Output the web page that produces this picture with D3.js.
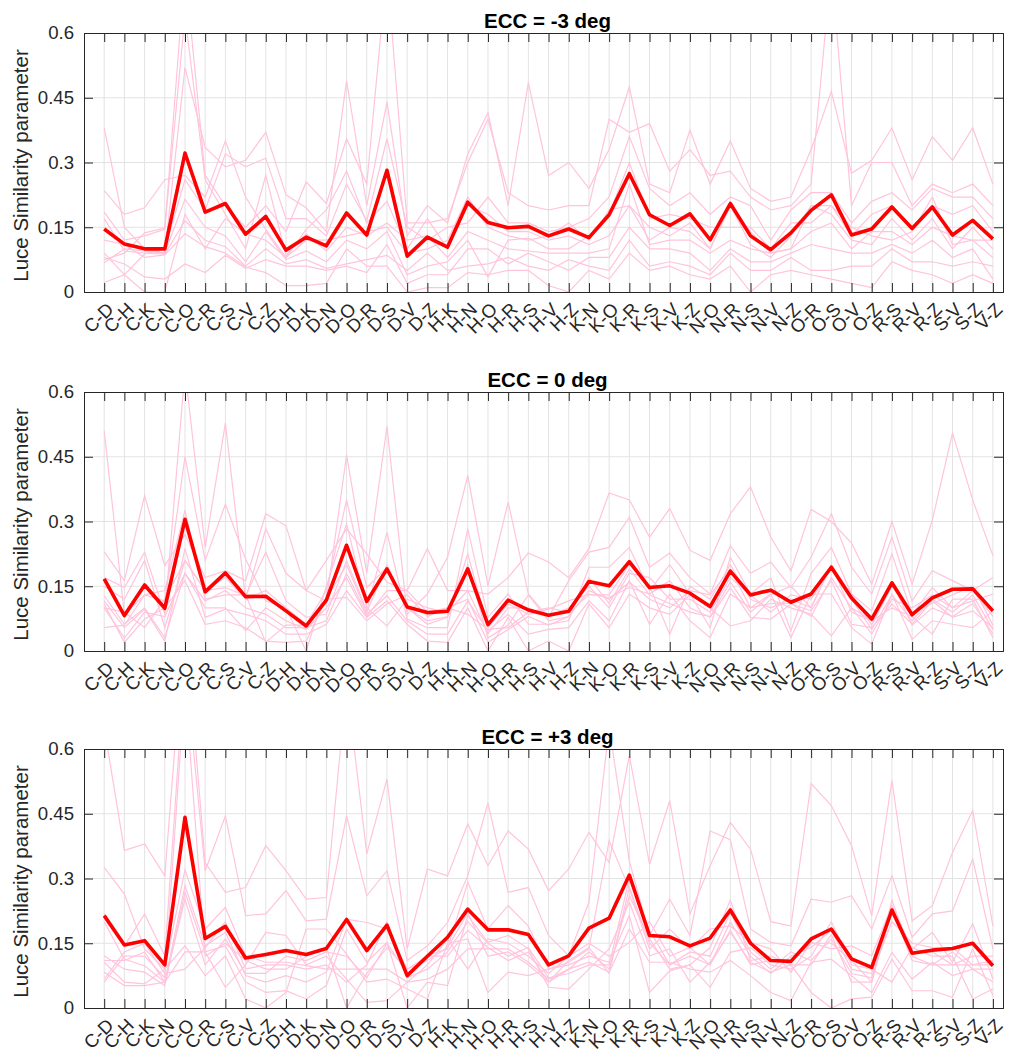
<!DOCTYPE html>
<html>
<head>
<meta charset="utf-8">
<script src="https://cdn.jsdelivr.net/npm/d3@7"></script>
<style>
  body { margin: 0; background: #fff; }
  svg text { font-family: "Liberation Sans", Arial, Helvetica, sans-serif; fill: #262626; }
</style>
</head>
<body>
<div id="chart"></div>
<script>
// letter pairs on the x axis
var pairs = ["C-D","C-H","C-K","C-N","C-O","C-R","C-S","C-V","C-Z","D-H","D-K","D-N","D-O","D-R","D-S","D-V","D-Z",
             "H-K","H-N","H-O","H-R","H-S","H-V","H-Z","K-N","K-O","K-R","K-S","K-V","K-Z","N-O","N-R","N-S","N-V","N-Z",
             "O-R","O-S","O-V","O-Z","R-S","R-V","R-Z","S-V","S-Z","V-Z"];
var yTicks = [0, 0.15, 0.3, 0.45, 0.6];
var titles = ["ECC = -3 deg", "ECC = 0 deg", "ECC = +3 deg"];

// group mean (red line)
var meanM3 = [0.146,0.111,0.100,0.100,0.322,0.185,0.205,0.134,0.175,0.097,0.127,0.107,0.183,0.132,0.282,0.083,0.127,
              0.104,0.208,0.161,0.149,0.152,0.130,0.146,0.126,0.179,0.274,0.179,0.154,0.181,0.121,0.205,0.130,0.098,0.137,
              0.189,0.225,0.132,0.146,0.197,0.147,0.197,0.132,0.166,0.123];
var meanZ0 = [0.167,0.082,0.153,0.099,0.305,0.137,0.181,0.126,0.127,0.093,0.058,0.118,0.245,0.115,0.190,0.102,0.089,
              0.092,0.190,0.061,0.118,0.095,0.083,0.092,0.161,0.151,0.207,0.147,0.151,0.134,0.103,0.185,0.130,0.141,0.113,
              0.132,0.194,0.123,0.074,0.158,0.084,0.123,0.143,0.144,0.093];
var meanP3 = [0.214,0.146,0.156,0.100,0.442,0.161,0.189,0.116,0.124,0.133,0.124,0.138,0.205,0.133,0.192,0.075,0.120,
              0.164,0.229,0.181,0.181,0.170,0.100,0.121,0.185,0.208,0.308,0.168,0.165,0.144,0.162,0.227,0.150,0.110,0.108,
              0.160,0.183,0.114,0.094,0.227,0.127,0.134,0.138,0.150,0.098];

// individual observers (pink lines): one row per pair, one value per observer
var subjM3 = [
  [.38,.235,.185,.17,.12,.09,.08,.075,.068,.022],
  [.15,.18,.12,.095,.11,.04,.065,.09,.1,.04],
  [.10,.195,.13,.09,.08,.088,.035,.137,.095,.0],
  [.09,.26,.145,.088,.086,.1,.03,.148,.09,.0],
  [.52,.27,.75,.165,.135,.26,.065,.64,.215,.18],
  [.335,.22,.27,.12,.105,.19,.045,.26,.15,.10],
  [.29,.35,.2,.105,.09,.32,.085,.18,.13,.17],
  [.305,.22,.15,.06,.058,.29,.055,.1,.07,.135],
  [.37,.145,.2,.1,.045,.31,.075,.27,.14,.12],
  [.225,.08,.14,.065,.015,.17,.06,.085,.075,.08],
  [.195,.145,.255,.075,.015,.17,.06,.135,.095,.12],
  [.14,.19,.205,.055,.02,.13,.05,.095,.07,.12],
  [.49,.28,.355,.065,.1,.25,.06,.15,.12,.13],
  [.2,.16,.25,.075,.06,.165,.045,.13,.1,.14],
  [.44,.21,.75,.085,.06,.355,.11,.16,.14,.15],
  [.13,.1,.16,.05,.0,.15,.02,.12,.04,.09],
  [.2,.17,.16,.09,.01,.12,.04,.13,.06,.1],
  [.16,.1,.17,.05,.01,.15,.04,.08,.07,.12],
  [.32,.2,.3,.06,.045,.16,.1,.14,.12,.22],
  [.415,.18,.4,.065,.04,.22,.1,.12,.035,.15],
  [.2,.14,.23,.08,.05,.16,.065,.1,.12,.13],
  [.485,.14,.2,.06,.05,.16,.09,.095,.125,.12],
  [.27,.12,.19,.05,.015,.14,.07,.09,.1,.13],
  [.3,.13,.2,.075,.0,.15,.05,.09,.1,.16],
  [.24,.11,.2,.06,.05,.17,.08,.09,.13,.12],
  [.33,.13,.4,.05,.03,.22,.08,.1,.18,.19],
  [.475,.2,.37,.12,.09,.36,.15,.25,.3,.2],
  [.25,.12,.39,.06,.05,.24,.1,.11,.17,.15],
  [.23,.15,.28,.07,.06,.2,.1,.12,.18,.13],
  [.375,.14,.33,.06,.04,.23,.09,.12,.17,.16],
  [.25,.1,.27,.04,.03,.18,.05,.09,.15,.1],
  [.35,.2,.28,.09,.06,.22,.1,.12,.15,.2],
  [.24,.11,.22,.05,.0,.2,.07,.1,.15,.14],
  [.21,.08,.19,.05,.04,.12,.07,.09,.1,.09],
  [.22,.13,.2,.08,.05,.19,.09,.1,.16,.1],
  [.33,.2,.25,.05,.04,.23,.11,.14,.16,.2],
  [.465,.18,.75,.05,.03,.23,.1,.16,.2,.2],
  [.275,.12,.2,.06,.02,.16,.09,.1,.13,.15],
  [.305,.11,.3,.06,.01,.21,.09,.14,.18,.13],
  [.38,.17,.3,.1,.07,.23,.11,.14,.2,.12],
  [.26,.12,.2,.07,.05,.19,.09,.11,.15,.14],
  [.36,.17,.25,.07,.04,.24,.12,.15,.2,.22],
  [.305,.1,.23,.06,.02,.22,.08,.13,.18,.11],
  [.38,.15,.25,.07,.04,.22,.1,.12,.2,.12],
  [.25,.1,.2,.06,.02,.17,.03,.08,.14,.12]
];
var subjZ0 = [
  [.51,.23,.17,.15,.128,.116,.109,.1,.054,.1],
  [.085,.163,.147,.12,.062,.054,.02,.09,.06,.03],
  [.13,.36,.229,.21,.1,.097,.074,.054,.13,.09],
  [.116,.198,.085,.054,.031,.023,.1,.12,.14,.08],
  [.45,.27,.65,.21,.18,.237,.163,.21,.326,.18],
  [.21,.17,.24,.14,.116,.078,.062,.14,.12,.1],
  [.34,.186,.528,.147,.14,.097,.07,.17,.13,.1],
  [.213,.163,.12,.128,.1,.085,.054,.12,.13,.047],
  [.116,.318,.283,.229,.085,.07,.023,.14,.02,.1],
  [.1,.29,.18,.116,.054,.039,.02,.1,.06,.07],
  [.062,.14,.14,.078,.054,.039,.023,.0,.06,.05],
  [.14,.21,.116,.085,.07,.062,.12,.15,.12,.1],
  [.35,.283,.454,.21,.18,.14,.124,.295,.2,.17],
  [.147,.225,.18,.093,.085,.078,.07,.1,.09,.08],
  [.194,.159,.52,.275,.128,.116,.109,.058,.2,.14],
  [.1,.14,.085,.074,.07,.062,.13,.12,.1,.14],
  [.062,.237,.132,.054,.039,.023,.08,.1,.07,.09],
  [.078,.14,.217,.054,.039,.02,.1,.09,.08,.1],
  [.225,.14,.407,.283,.116,.1,.085,.14,.2,.12],
  [.054,.132,.151,.078,.047,.0,.05,.04,.03,.02],
  [.109,.17,.345,.132,.085,.078,.054,.1,.06,.05],
  [.085,.227,.132,.062,.039,.0,.09,.1,.13,.08],
  [.097,.206,.078,.062,.05,.023,.1,.08,.07,.06],
  [.116,.17,.163,.07,.054,.0,.09,.1,.08,.08],
  [.132,.237,.229,.194,.116,.109,.13,.15,.14,.17],
  [.124,.366,.24,.194,.07,.054,.13,.1,.12,.11],
  [.147,.35,.31,.24,.163,.132,.2,.18,.16,.19],
  [.132,.264,.194,.14,.062,.1,.15,.17,.12,.13],
  [.163,.33,.227,.2,.132,.085,.039,.12,.1,.11],
  [.1,.233,.17,.132,.07,.13,.15,.12,.14,.09],
  [.078,.21,.132,.054,.031,.1,.12,.09,.13,.08],
  [.147,.318,.244,.217,.132,.058,.2,.17,.19,.16],
  [.078,.38,.18,.132,.1,.07,.12,.13,.1,.09],
  [.074,.264,.206,.17,.132,.12,.1,.09,.11,.13],
  [.109,.186,.147,.047,.031,.1,.12,.13,.11,.15],
  [.093,.328,.217,.18,.132,.085,.1,.12,.08,.1],
  [.163,.3,.318,.24,.132,.035,.2,.19,.17,.2],
  [.062,.25,.194,.132,.054,.1,.13,.12,.1,.09],
  [.054,.155,.132,.093,.016,.07,.06,.05,.04,.07],
  [.109,.3,.264,.225,.132,.1,.15,.13,.12,.16],
  [.062,.155,.116,.085,.027,.08,.09,.07,.1,.06],
  [.116,.303,.186,.147,.07,.039,.11,.12,.13,.1],
  [.078,.505,.163,.1,.062,.12,.13,.09,.1,.08],
  [.093,.35,.14,.116,.054,.12,.15,.13,.14,.11],
  [.054,.221,.17,.132,.093,.031,.06,.05,.08,.04]
];
var subjP3 = [
  [.65,.326,.218,.2,.121,.106,.083,.067,.06,.11],
  [.365,.264,.144,.113,.09,.06,.052,.13,.12,.11],
  [.38,.137,.218,.098,.083,.056,.052,.15,.12,.13],
  [.306,.09,.121,.06,.052,.09,.06,.08,.07,.06],
  [.9,.32,.8,.283,.268,.144,.13,.09,.75,.252],
  [.337,.183,.318,.144,.13,.075,.13,.14,.12,.1],
  [.268,.233,.445,.175,.144,.121,.048,.2,.15,.16],
  [.279,.121,.214,.075,.06,.021,.1,.09,.11,.08],
  [.376,.106,.218,.06,.036,.0,.175,.1,.09,.08],
  [.318,.106,.272,.075,.04,.036,.168,.1,.09,.12],
  [.252,.098,.202,.06,.021,.183,.1,.09,.12,.11],
  [.256,.09,.206,.083,.052,.183,.12,.1,.14,.13],
  [.75,.09,.445,.206,.183,.125,.067,.06,.0,.12],
  [.357,.09,.26,.198,.106,.06,.013,.1,.08,.07],
  [.53,.09,.318,.183,.152,.067,.017,.2,.14,.15],
  [.137,.06,.11,.09,.0,.044,.06,.07,.09,.08],
  [.322,.067,.144,.121,.06,.021,.1,.09,.11,.12],
  [.306,.09,.198,.137,.052,.15,.16,.13,.14,.12],
  [.426,.137,.306,.291,.214,.16,.09,.2,.22,.18],
  [.33,.137,.475,.183,.152,.036,.16,.15,.12,.14],
  [.41,.137,.268,.237,.168,.083,.15,.12,.13,.11],
  [.368,.106,.279,.19,.137,.075,.12,.14,.1,.13],
  [.272,.067,.168,.09,.048,.09,.08,.07,.06,.06],
  [.322,.09,.121,.106,.044,.1,.12,.08,.11,.09],
  [.407,.106,.245,.137,.09,.12,.15,.1,.14,.13],
  [.337,.083,.65,.388,.137,.106,.12,.1,.08,.09],
  [.585,.183,.341,.276,.245,.214,.152,.3,.28,.26],
  [.333,.106,.168,.137,.121,.036,.2,.18,.15,.16],
  [.48,.106,.252,.183,.137,.086,.12,.1,.1,.09],
  [.218,.09,.168,.137,.06,.1,.14,.13,.12,.1],
  [.33,.083,.41,.183,.106,.048,.1,.12,.1,.14],
  [.43,.11,.39,.19,.175,.129,.2,.22,.18,.25],
  [.368,.075,.183,.152,.106,.14,.12,.13,.1,.11],
  [.2,.036,.152,.137,.083,.1,.08,.09,.11,.12],
  [.19,.017,.144,.083,.1,.09,.12,.13,.11,.1],
  [.52,.106,.252,.152,.036,.12,.14,.11,.15,.1],
  [.469,.113,.245,.137,.0,.2,.18,.16,.15,.17],
  [.376,.075,.26,.144,.021,.1,.09,.08,.11,.06],
  [.214,.036,.183,.121,.025,.09,.08,.07,.06,.06],
  [.527,.129,.306,.237,.113,.06,.2,.22,.25,.23],
  [.202,.067,.164,.137,.04,.14,.15,.13,.12,.11],
  [.237,.106,.218,.175,.04,.12,.14,.13,.1,.1],
  [.36,.075,.225,.106,.025,.12,.14,.1,.13,.1],
  [.457,.09,.345,.195,.137,.021,.1,.12,.09,.1],
  [.19,.06,.137,.067,.029,.044,.1,.12,.09,.11]
];

var panels = [
  {title: titles[0], mean: meanM3, subj: subjM3, top: 33},
  {title: titles[1], mean: meanZ0, subj: subjZ0, top: 392},
  {title: titles[2], mean: meanP3, subj: subjP3, top: 749}
];

var width = 1012, height = 1056,
    left = 84, right = 1003, plotH = 259;

var svg = d3.select("#chart").append("svg")
  .attr("width", width).attr("height", height);

var x = d3.scaleLinear().domain([0, 45.5]).range([left, right]);

panels.forEach(function(p, k) {
  var y = d3.scaleLinear().domain([0, 0.6]).range([p.top + plotH, p.top]);
  var g = svg.append("g");

  // grid
  g.append("g").selectAll("line").data(pairs).enter().append("line")
    .attr("x1", function(d, i) { return x(i + 1); }).attr("x2", function(d, i) { return x(i + 1); })
    .attr("y1", p.top).attr("y2", p.top + plotH)
    .attr("stroke", "#e3e3e3").attr("stroke-width", 1);
  g.append("g").selectAll("line").data(yTicks.slice(1, 4)).enter().append("line")
    .attr("x1", left).attr("x2", right)
    .attr("y1", function(d) { return y(d); }).attr("y2", function(d) { return y(d); })
    .attr("stroke", "#e3e3e3").attr("stroke-width", 1);

  // clip for values above 0.6
  var clipId = "clip" + k;
  svg.append("clipPath").attr("id", clipId).append("rect")
    .attr("x", left).attr("y", p.top).attr("width", right - left).attr("height", plotH);

  var line = d3.line()
    .x(function(d, i) { return x(i + 1); })
    .y(function(d) { return y(d); });

  var nSubj = p.subj[0].length;
  var subjLines = d3.range(nSubj).map(function(s) {
    return p.subj.map(function(row) { return row[s]; });
  });

  var lines = g.append("g").attr("clip-path", "url(#" + clipId + ")");
  lines.selectAll("path.subj").data(subjLines).enter().append("path")
    .attr("class", "subj")
    .attr("d", line)
    .attr("fill", "none")
    .attr("stroke", "#ffc4dc")
    .attr("stroke-width", 1.2);
  lines.append("path")
    .datum(p.mean)
    .attr("d", line)
    .attr("fill", "none")
    .attr("stroke", "#ff0000")
    .attr("stroke-width", 3.6)
    .attr("stroke-linejoin", "round");

  // axes (ticks inward, box on all sides)
  var xb = d3.axisBottom(x).tickValues(d3.range(1, 46)).tickSize(-9).tickFormat("");
  var xt = d3.axisTop(x).tickValues(d3.range(1, 46)).tickSize(-9).tickFormat("");
  var yl = d3.axisLeft(y).tickValues(yTicks).tickSize(-9).tickPadding(10)
    .tickFormat(function(d) { return d === 0 ? "0" : String(d); });
  var yr = d3.axisRight(y).tickValues(yTicks).tickSize(-9).tickFormat("");

  [[xb, "translate(0," + (p.top + plotH) + ")"], [xt, "translate(0," + p.top + ")"],
   [yl, "translate(" + left + ",0)"], [yr, "translate(" + right + ",0)"]].forEach(function(a) {
    var ag = g.append("g").attr("transform", a[1]).call(a[0]);
    ag.select(".domain").attr("stroke", "#262626");
    ag.selectAll(".tick line").attr("stroke", "#262626");
    ag.selectAll("text").attr("font-size", 18.6).attr("fill", "#262626")
      .style("font-family", "'Liberation Sans', Arial, sans-serif");
  });

  // rotated pair labels
  g.append("g").selectAll("text").data(pairs).enter().append("text")
    .attr("transform", function(d, i) {
      return "translate(" + (x(i + 1) + 6) + "," + (p.top + plotH + 14) + ") rotate(-45)";
    })
    .attr("text-anchor", "end")
    .attr("dy", "0.35em")
    .attr("font-size", 18.6)
    .text(function(d) { return d; });

  // y label
  g.append("text")
    .attr("transform", "translate(28," + (p.top + plotH / 2 + 3) + ") rotate(-90)")
    .attr("text-anchor", "middle")
    .attr("font-size", 20.5)
    .text("Luce Similarity parameter");

  // title
  g.append("text")
    .attr("x", (left + right) / 2 + 4).attr("y", p.top - 5)
    .attr("text-anchor", "middle")
    .attr("font-size", 20.5).attr("font-weight", "bold")
    .style("fill", "#000")
    .text(p.title);
});
</script>
</body>
</html>
